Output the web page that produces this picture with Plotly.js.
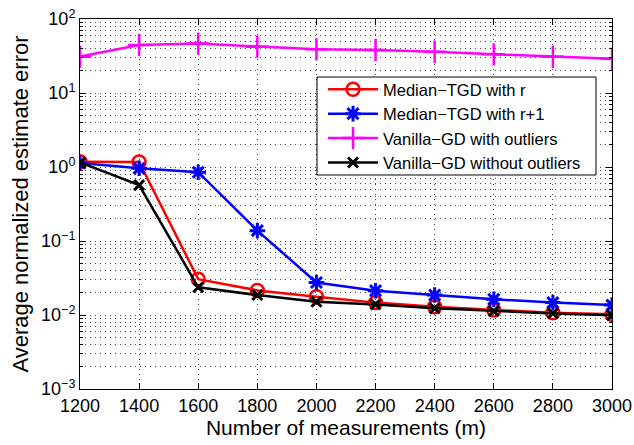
<!DOCTYPE html>
<html>
<head>
<meta charset="utf-8">
<script src="https://cdn.plot.ly/plotly-3.0.1.min.js"></script>
<style>html,body{margin:0;padding:0;background:#fff;}#chart{width:634px;height:445px;}</style>
</head>
<body>
<div id="chart"></div>
<script>
var measurements = [1200, 1400, 1600, 1800, 2000, 2200, 2400, 2600, 2800, 3000];
var medianTgdR   = [1.18, 1.17, 0.0305, 0.0215, 0.0177, 0.0147, 0.0129, 0.0117, 0.0107, 0.0102];
var medianTgdR1  = [1.13, 0.96, 0.85, 0.138, 0.0275, 0.0213, 0.0186, 0.0163, 0.0147, 0.0136];
var vanillaOut   = [31, 44.5, 46.5, 42.3, 38.9, 38.1, 36.1, 33.3, 30.9, 29.1];
var vanillaNoOut = [1.15, 0.57, 0.0237, 0.0186, 0.0151, 0.0139, 0.0123, 0.0113, 0.0105, 0.0099];
var seriesNames = ['Median\u2212TGD with r', 'Median\u2212TGD with r+1', 'Vanilla\u2212GD with outliers', 'Vanilla\u2212GD without outliers'];
var xTickVals = [1200, 1400, 1600, 1800, 2000, 2200, 2400, 2600, 2800, 3000];
var yTickVals = [0.001, 0.01, 0.1, 1, 10, 100];
var yTickText = ['10<sup>\u22123</sup>', '10<sup>\u22122</sup>', '10<sup>\u22121</sup>', '10<sup>0</sup>', '10<sup>1</sup>', '10<sup>2</sup>'];

var FONT = 'Liberation Sans, Arial, Helvetica, sans-serif';
var GRIDDASH = '1px,4px';

var traces = [
  {x: measurements, y: medianTgdR, name: seriesNames[0], mode: 'lines+markers',
   line: {color: '#ff0000', width: 2.5},
   marker: {symbol: 'circle-open', size: 13, color: '#ff0000', line: {width: 2.5, color: '#ff0000'}}},
  {x: measurements, y: medianTgdR1, name: seriesNames[1], mode: 'lines+markers',
   line: {color: '#0000ff', width: 2.5},
   marker: {symbol: 'asterisk-open', size: 13, color: '#0000ff', line: {width: 3, color: '#0000ff'}}},
  {x: measurements, y: vanillaOut, name: seriesNames[2], mode: 'lines+markers',
   line: {color: '#ff00ff', width: 2.5},
   marker: {symbol: 'cross-thin-open', size: 16, color: '#ff00ff', line: {width: 2.5, color: '#ff00ff'}}},
  {x: measurements, y: vanillaNoOut, name: seriesNames[3], mode: 'lines+markers',
   line: {color: '#000000', width: 2.5},
   marker: {symbol: 'x-thin-open', size: 10, color: '#000000', line: {width: 3, color: '#000000'}}}
];

var layout = {
  width: 634, height: 445,
  margin: {l: 80, r: 22, t: 19, b: 56},
  paper_bgcolor: '#ffffff', plot_bgcolor: '#ffffff',
  font: {family: FONT, color: '#000000', size: 18},
  showlegend: true,
  legend: {x: 0.4568, y: 0.8568, xanchor: 'left', yanchor: 'top',
           bgcolor: 'rgba(0,0,0,0)', borderwidth: 0,
           font: {family: FONT, size: 16.5, color: '#000'}, tracegroupgap: 0, itemwidth: 50},
  shapes: [
    {type: 'rect', xref: 'paper', yref: 'paper', x0: 0.4455, x1: 0.9699, y0: 0.5784, y1: 0.8432,
     fillcolor: '#ffffff', line: {color: '#000000', width: 1}, layer: 'above'}
  ],
  xaxis: {
    range: [1200, 3000], tickvals: xTickVals, ticktext: xTickVals.map(String),
    showline: true, linecolor: '#000', linewidth: 1, mirror: 'ticks',
    ticks: 'inside', ticklen: 6, tickcolor: '#000',
    showgrid: true, gridcolor: '#444', griddash: GRIDDASH, gridwidth: 1,
    zeroline: false,
    tickfont: {family: FONT, size: 18},
    title: {text: 'Number of measurements (m)', font: {family: FONT, size: 21}, standoff: 4}
  },
  yaxis: {
    type: 'log', range: [-3, 2], tickvals: yTickVals, ticktext: yTickText,
    showline: true, linecolor: '#000', linewidth: 1, mirror: 'ticks',
    ticks: 'inside', ticklen: 6, tickcolor: '#000',
    showgrid: true, gridcolor: '#444', griddash: GRIDDASH, gridwidth: 1,
    zeroline: false,
    tickfont: {family: FONT, size: 18},
    minor: {dtick: 'D1', showgrid: true, gridcolor: '#444', griddash: GRIDDASH, gridwidth: 1,
            ticks: 'inside', ticklen: 3, tickcolor: '#000'},
    title: {text: 'Average normalized estimate error', font: {family: FONT, size: 22}, standoff: 6}
  }
};

Plotly.newPlot('chart', traces, layout, {staticPlot: true, displayModeBar: false});
</script>
</body>
</html>
